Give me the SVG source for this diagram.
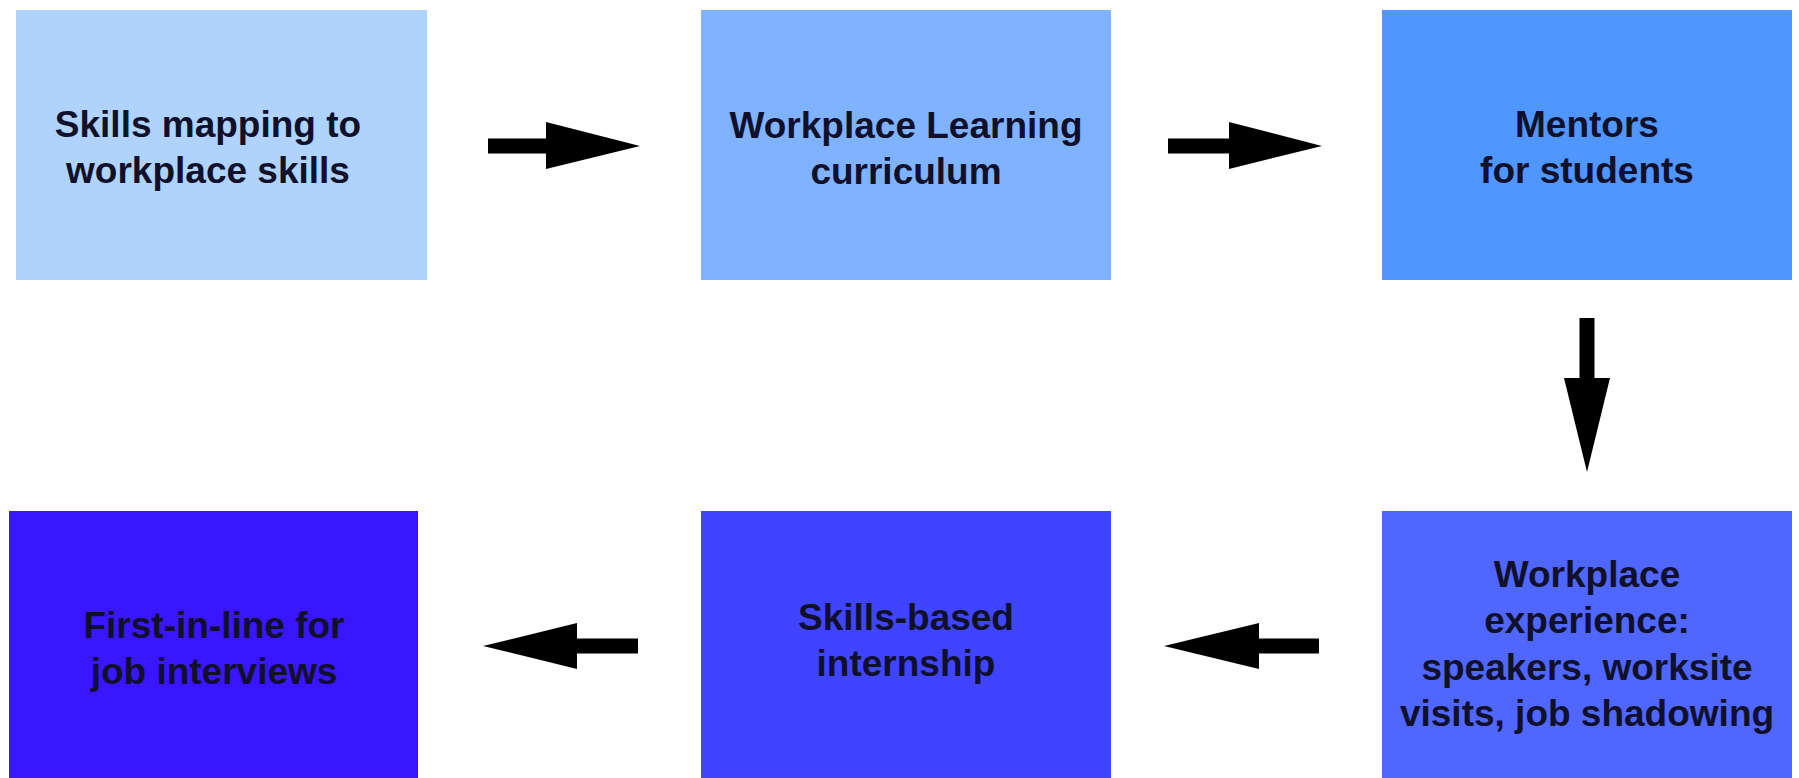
<svg xmlns="http://www.w3.org/2000/svg" width="1799" height="778" viewBox="0 0 1799 778">
<style>
.lbl{font-family:"Liberation Sans",Arial,Helvetica,sans-serif;font-weight:bold;font-size:37px;fill:#10102a;text-anchor:middle}
.arr{fill:#000}
</style>
<rect width="1799" height="778" fill="#fff"/>
<g id="node-skills-mapping">
<rect x="16" y="10" width="411" height="270" fill="#AFD3FD"/>
<text class="lbl" x="208" y="137">Skills mapping to</text>
<text class="lbl" x="208" y="183">workplace skills</text>
</g>
<g id="node-workplace-learning">
<rect x="701" y="10" width="410" height="270" fill="#80B3FF"/>
<text class="lbl" x="906" y="138">Workplace Learning</text>
<text class="lbl" x="906" y="184">curriculum</text>
</g>
<g id="node-mentors">
<rect x="1382" y="10" width="410" height="270" fill="#5096FF"/>
<text class="lbl" x="1587" y="137">Mentors</text>
<text class="lbl" x="1587" y="183">for students</text>
</g>
<g id="node-workplace-experience">
<rect x="1382" y="511" width="410" height="267" fill="#4F66FF"/>
<text class="lbl" x="1587" y="587">Workplace</text>
<text class="lbl" x="1587" y="633">experience:</text>
<text class="lbl" x="1587" y="680">speakers, worksite</text>
<text class="lbl" x="1587" y="726">visits, job shadowing</text>
</g>
<g id="node-internship">
<rect x="701" y="511" width="410" height="267" fill="#3F44FF"/>
<text class="lbl" x="906" y="630">Skills-based</text>
<text class="lbl" x="906" y="676">internship</text>
</g>
<g id="node-first-in-line">
<rect x="9" y="511" width="409" height="267" fill="#3A15FF"/>
<text class="lbl" x="214" y="638">First-in-line for</text>
<text class="lbl" x="214" y="684">job interviews</text>
</g>
<g id="connectors">
<path class="arr" d="M488 138.5H546V122L640 146L546 169V153.5H488Z"/>
<path class="arr" d="M1168 138.5H1229V122L1322 146L1229 169V153.5H1168Z"/>
<path class="arr" d="M1579.5 318V378H1564L1587 472L1610 378H1594.5V318Z"/>
<path class="arr" d="M1319 638.5H1259V623L1164 646L1259 669V653.5H1319Z"/>
<path class="arr" d="M638 638.5H577V623L483 646L577 669V653.5H638Z"/>
</g>
</svg>
